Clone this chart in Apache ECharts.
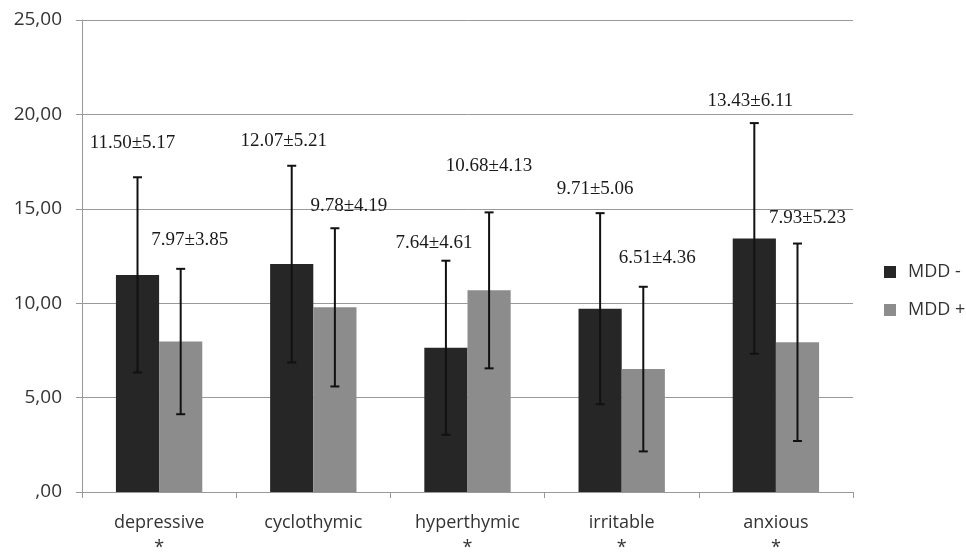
<!DOCTYPE html>
<html>
<head>
<meta charset="utf-8">
<script src="https://cdn.jsdelivr.net/npm/echarts@6/dist/echarts.min.js"></script>
<style>
html,body{margin:0;padding:0;background:#fff;}
#chart{width:966px;height:552px;}
</style>
</head>
<body>
<div id="chart"></div>
<script>
// ---- data ----
const categories = ['depressive', 'cyclothymic', 'hyperthymic', 'irritable', 'anxious'];
const significant = [true, false, true, true, true];
const mddNegMean = [11.50, 12.07, 7.64, 9.71, 13.43];
const mddNegSD   = [5.17, 5.21, 4.61, 5.06, 6.11];
const mddPosMean = [7.97, 9.78, 10.68, 6.51, 7.93];
const mddPosSD   = [3.85, 4.19, 4.13, 4.36, 5.23];
const seriesNames = ['MDD -', 'MDD +'];

// ---- layout of the annotation labels (pixel offsets from error-bar top) ----
const negLabelOffset = [[-5, -34], [-8, -25], [-12, -18], [-5, -24], [-4, -22]];
const posLabelOffset = [[9, -29], [14, -22], [0, -46], [14, -29], [10, -26]];

const chart = echarts.init(document.getElementById('chart'), null, {renderer: 'canvas'});

function errRender(offsets, sign) {
  return function (params, api) {
    const i = api.value(0), m = api.value(1), sd = api.value(2);
    const band = api.size([1, 0])[0];
    const dx = sign * band * 0.14;
    const top = api.coord([i, m + sd]);
    const bot = api.coord([i, m - sd]);
    const x = top[0] + dx;
    const cap = 4.5;
    const st = {stroke: '#111', lineWidth: 2};
    const off = offsets[params.dataIndex];
    return {
      type: 'group',
      children: [
        {type: 'line', shape: {x1: x, y1: top[1], x2: x, y2: bot[1]}, style: st},
        {type: 'line', shape: {x1: x - cap, y1: top[1], x2: x + cap, y2: top[1]}, style: st},
        {type: 'line', shape: {x1: x - cap, y1: bot[1], x2: x + cap, y2: bot[1]}, style: st},
        {type: 'text', style: {
          text: m.toFixed(2) + '±' + sd.toFixed(2),
          x: x + off[0], y: top[1] + off[1],
          align: 'center', verticalAlign: 'middle',
          font: '19px "Liberation Serif", "DejaVu Serif", serif',
          fill: '#1a1a1a'
        }}
      ]
    };
  };
}

const option = {
  animation: false,
  backgroundColor: '#fff',
  grid: {left: 82, right: 113, top: 20, bottom: 60, containLabel: false, outerBoundsMode: 'none'},
  legend: {
    data: seriesNames,
    orient: 'vertical',
    left: 879,
    top: 258,
    itemWidth: 12,
    itemHeight: 12,
    itemGap: 20,
    icon: 'rect',
    textStyle: {fontFamily: '"Open Sans", sans-serif', fontSize: 18, color: '#333', padding: [0, 0, 0, 7]}
  },
  xAxis: {
    type: 'category',
    data: categories,
    axisLine: {lineStyle: {color: '#999', width: 1}},
    axisTick: {show: true, length: 6, lineStyle: {color: '#999'}},
    axisLabel: {
      margin: 18,
      interval: 0,
      fontFamily: '"Open Sans", sans-serif',
      fontSize: 18,
      color: '#333',
      lineHeight: 25,
      formatter: function (v, idx) {
        return v + '\n' + (significant[idx] ? '*' : ' ');
      }
    }
  },
  yAxis: {
    type: 'value',
    min: 0, max: 25, interval: 5,
    axisLine: {show: true, lineStyle: {color: '#999', width: 1}},
    axisTick: {show: true, length: 6, lineStyle: {color: '#999'}},
    splitLine: {show: true, lineStyle: {color: '#999', width: 1}},
    axisLabel: {
      margin: 20,
      fontFamily: '"Open Sans", sans-serif',
      fontSize: 19,
      color: '#333',
      formatter: function (v) {
        const s = v.toFixed(2).replace('.', ',');
        return v === 0 ? ',00' : s;
      }
    }
  },
  series: [
    {name: seriesNames[0], type: 'bar', data: mddNegMean, barWidth: '28%', barGap: '0%',
     itemStyle: {color: '#262626'}},
    {name: seriesNames[1], type: 'bar', data: mddPosMean, barWidth: '28%', barGap: '0%',
     itemStyle: {color: '#8c8c8c'}},
    {name: 'errNeg', type: 'custom', z: 5,
     data: categories.map((c, i) => [i, mddNegMean[i], mddNegSD[i]]),
     encode: {x: 0, y: 1},
     renderItem: errRender(negLabelOffset, -1)},
    {name: 'errPos', type: 'custom', z: 5,
     data: categories.map((c, i) => [i, mddPosMean[i], mddPosSD[i]]),
     encode: {x: 0, y: 1},
     renderItem: errRender(posLabelOffset, 1)}
  ]
};
chart.setOption(option);
</script>
</body>
</html>
